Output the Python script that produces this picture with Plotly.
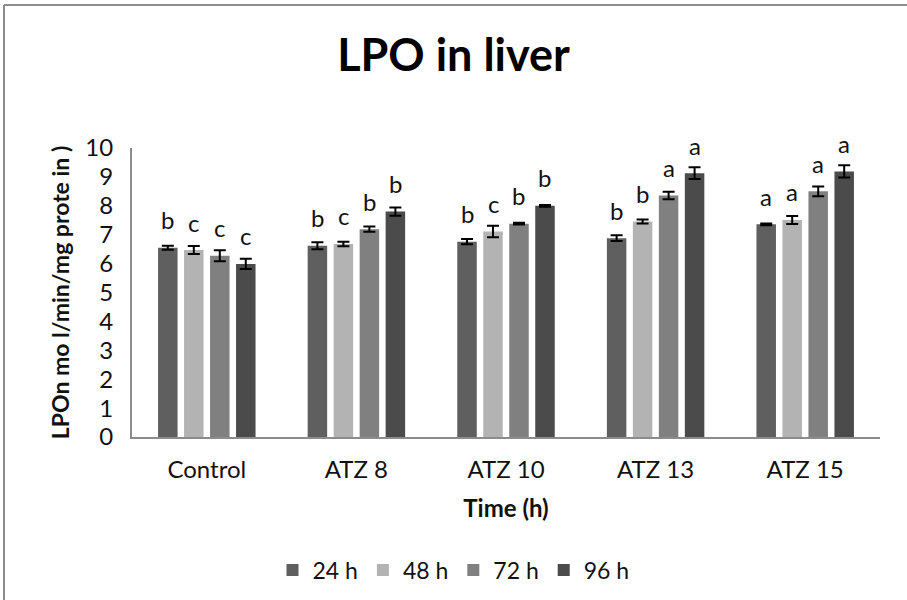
import plotly.graph_objects as go

categories = ["Control", "ATZ 8", "ATZ 10", "ATZ 13", "ATZ 15"]
series_names = ["24 h", "48 h", "72 h", "96 h"]
values_24 = [6.55, 6.62, 6.76, 6.88, 7.36]
values_48 = [6.47, 6.68, 7.11, 7.46, 7.51]
values_72 = [6.27, 7.19, 7.38, 8.36, 8.50]
values_96 = [5.99, 7.80, 8.00, 9.13, 9.19]
err_24 = [0.07, 0.12, 0.09, 0.10, 0.03]
err_48 = [0.14, 0.08, 0.20, 0.07, 0.14]
err_72 = [0.19, 0.09, 0.03, 0.13, 0.17]
err_96 = [0.18, 0.14, 0.03, 0.20, 0.21]
letters_24 = ["b", "b", "b", "b", "a"]
letters_48 = ["c", "c", "c", "b", "a"]
letters_72 = ["c", "b", "b", "a", "a"]
letters_96 = ["c", "b", "b", "a", "a"]
y_ticks = list(range(0, 11))

colors = ["#5f5f5f", "#b3b3b3", "#808080", "#4b4b4b"]
values = [values_24, values_48, values_72, values_96]
errors = [err_24, err_48, err_72, err_96]
letters = [letters_24, letters_48, letters_72, letters_96]

W, H = 907, 600
ML, MR, MT, MB = 132, 27, 148, 163
BARGAP = 0.305
FONT = "Lato, 'Open Sans', sans-serif"

fig = go.Figure()
for name, col, v, e in zip(series_names, colors, values, errors):
    fig.add_trace(go.Bar(
        x=categories, y=v, name=name,
        marker=dict(color=col, line=dict(width=0)),
        error_y=dict(type="data", array=e, visible=True, color="black",
                     thickness=2, width=6),
    ))

plot_w = W - ML - MR
slot = plot_w / len(categories) * (1 - BARGAP) / len(series_names)
for i, (v, lt) in enumerate(zip(values, letters)):
    for cat, val, t in zip(categories, v, lt):
        fig.add_annotation(x=cat, y=val, text=t, showarrow=False,
                           xref="x", yref="y",
                           xshift=(i - 1.5) * slot, yshift=28,
                           yanchor="middle",
                           font=dict(family=FONT, size=24, color="#111"))

# chart border (left and top visible)
px = lambda xp: (xp - ML) / plot_w
py = lambda yp: 1 - (yp - MT) / (H - MT - MB)
fig.add_shape(type="line", xref="paper", yref="paper",
              x0=px(4), x1=px(4), y0=py(5), y1=py(600),
              line=dict(color="#8c8c8c", width=2))
fig.add_shape(type="line", xref="paper", yref="paper",
              x0=px(4), x1=px(907), y0=py(5), y1=py(5),
              line=dict(color="#8c8c8c", width=2))

fig.update_layout(
    width=W, height=H,
    margin=dict(l=ML, r=MR, t=MT, b=MB, autoexpand=False),
    paper_bgcolor="white", plot_bgcolor="white",
    barmode="group", bargap=BARGAP, bargroupgap=0.25,
    font=dict(family=FONT, color="#111"),
    title=dict(text="<b>LPO in liver</b>", x=0.5, xref="container",
               y=1 - 55 / H, yref="container", yanchor="middle",
               xanchor="center",
               font=dict(family=FONT, size=45, color="#000")),
    xaxis=dict(showline=True, linecolor="#8c8c8c", linewidth=2,
               automargin=False,
               ticks="", tickfont=dict(size=24, family=FONT),
               ticklabelstandoff=10,
               title=dict(text="<b>Time (h)</b>", standoff=18,
                          font=dict(size=24, family=FONT))),
    yaxis=dict(range=[0, 10], tickvals=y_ticks, showgrid=False,
               zeroline=False, automargin=False,
               showline=True, linecolor="#8c8c8c", linewidth=2,
               ticks="", tickfont=dict(size=24, family=FONT),
               ticklabelstandoff=12,
               title=dict(text="<b>LPOn mo l/min/mg prote in )</b>",
                          standoff=9,
                          font=dict(size=23, family=FONT))),
    legend=dict(orientation="h", xref="container", yref="container",
                x=0.5, xanchor="center", y=1 - 570 / H, yanchor="middle",
                font=dict(size=23, family=FONT), itemwidth=30,
                traceorder="normal"),
    showlegend=True,
)

fig.write_html("out.html",
               config={"displayModeBar": False},
               post_script="document.body.style.margin='0';"
                           "document.body.style.overflow='hidden';")
